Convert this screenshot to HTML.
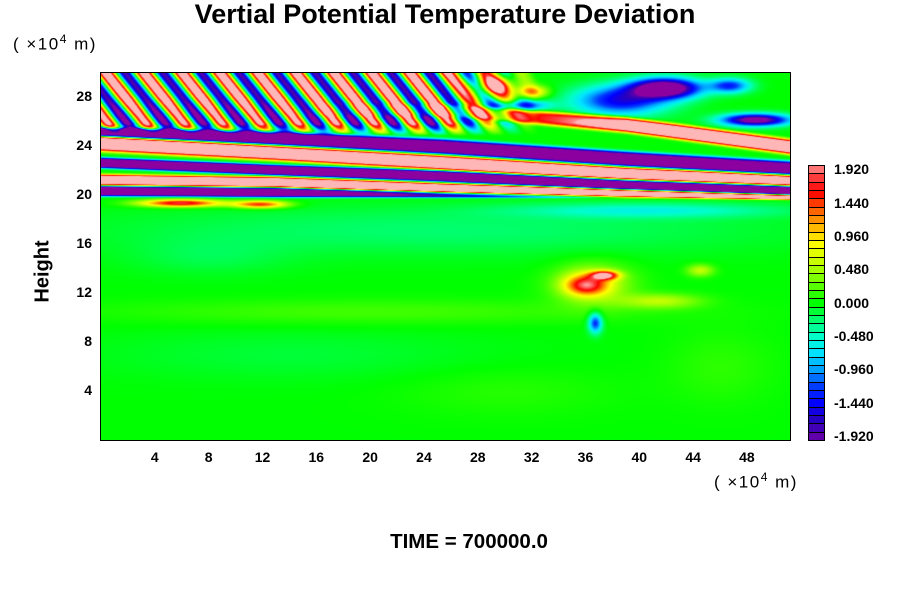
<!DOCTYPE html>
<html><head><meta charset="utf-8">
<style>
body{margin:0;background:#fff;width:900px;height:600px;overflow:hidden;position:relative;font-family:"Liberation Sans",Arial,sans-serif}
.t{position:absolute;white-space:nowrap;color:#000}
.b{font-weight:bold}
</style></head>
<body>
<div class="t b" style="left:0;width:890px;text-align:center;top:-1px;font-size:27px">Vertial Potential Temperature Deviation</div>
<div class="t" style="left:13px;top:32px;font-size:17px;letter-spacing:1.5px">( ×10<sup style="font-size:12px">4</sup>  m)</div>
<div class="t" style="left:714px;top:470px;font-size:17px;letter-spacing:1.5px">( ×10<sup style="font-size:12px">4</sup>  m)</div>
<div class="t b" style="left:8px;top:260px;font-size:20px;transform:rotate(-90deg);transform-origin:center;width:70px;text-align:center">Height</div>
<div class="t b" style="left:0;width:938px;text-align:center;top:530px;font-size:20.5px">TIME = 700000.0</div>
<canvas id="cv" width="689" height="367" style="position:absolute;left:101px;top:73px"></canvas>
<div style="position:absolute;left:100px;top:72px;width:689px;height:367px;border:1px solid #000"></div>
<div id="ax"></div>
<script>
// ---- data ----
const xTicks=[4,8,12,16,20,24,28,32,36,40,44,48];
const yTicks=[4,8,12,16,20,24,28];
const cbLevels=[1.92,1.44,0.96,0.48,0.0,-0.48,-0.96,-1.44,-1.92];
const bandKnotsX=[0,13,25.5,39,51.2];
const bandAmp=[2.6,-2.6,-2.6,2.6,-2.6,2.6];
const bandA=[24.3,23.5,22.7,21.8,21.3];
const bandB=[25.2,24.7,24.0,23.0,22.2];
const bandC=[22.7,22.1,21.6,20.9,20.4];
const bandD=[21.3,21.1,20.6,20.2,19.9];
const bandE=[20.4,20.3,20.1,19.9,19.7];
const bandF=[27.0,27.0,27.0,25.8,24.0];
const bandWidthA=[0.65,0.6,0.6,0.55,0.5];
const bandWidthB=[0.4,0.55,0.6,0.6,0.6];
const bandWidthC=[0.42,0.42,0.45,0.45,0.4];
const bandWidthD=[0.45,0.45,0.42,0.35,0.22];
const bandWidthE=[0.42,0.4,0.25,0.1,0.02];
const bandWidthF=[0.5,0.5,0.5,0.6,0.6];
const bandFade=[[1,1,1,1,1],[1,1,1,1,1],[1,1,1,1,1],[1,1,1,1,1],[1,1,0.7,0.2,0],[0,0,0.25,1,1]];
const blobX=[41.9,38.6,46.7,48.6,31.1,29.3,31.9,37.4,36.0,36.5,36.7,41.5,44.5,5.9,11.8,40.8,25.2,20,14,8,30,46];
const blobH=[28.8,27.8,29.0,26.2,27.4,29.0,28.5,13.5,12.7,12.8,9.6,11.4,13.9,19.4,19.3,18.8,17.2,10.5,7,15,4,6];
const blobVal=[-2.6,-1.5,-1.3,-2.3,-1.3,1.7,1.2,1.8,1.3,0.7,-1.3,0.55,0.6,1.8,1.5,-0.5,-0.25,0.18,-0.12,-0.15,0.1,0.12];
const blobRX=[2.5,3.5,1.5,2.5,2.0,1.5,1.2,1.0,1.5,2.8,0.5,3.0,1.0,3.0,2.0,10,25,20,15,6,8,4];
const blobRY=[0.8,1.2,0.6,0.5,0.4,0.8,0.5,0.35,0.8,1.6,0.8,0.6,0.5,0.3,0.3,0.6,2.0,1.0,2.0,1.5,2,3];
const waveAmp=2.2;
const waveBias=0.35;
const waveLength=38;
// ---- scales ----
const X0=101,X1=790,Y0=440,Y1=73,XMAX=51.2,HMAX=30;
const xs=v=>X0+(v/XMAX)*(X1-X0);
const ys=v=>Y0-(v/HMAX)*(Y0-Y1);
const xinv=p=>(p-X0)/(X1-X0)*XMAX;
const hinv=p=>(Y0-p)/(Y0-Y1)*HMAX;
const stops=[[-2.0,[140,0,160]],[-1.92,[96,0,170]],[-1.7,[40,0,190]],[-1.44,[0,0,255]],[-1.2,[0,60,255]],[-0.96,[0,160,255]],[-0.7,[0,230,255]],[-0.48,[0,255,200]],[-0.2,[0,255,90]],[0,[0,255,0]],[0.3,[110,255,0]],[0.6,[200,255,0]],[0.85,[255,255,0]],[1.1,[255,180,0]],[1.35,[255,90,0]],[1.6,[255,0,0]],[1.8,[255,60,60]],[1.95,[255,130,130]],[2.0,[255,182,182]]];
function col(v){
  if(v<=-1.98)return [140,0,160];
  if(v>=1.98)return [255,182,182];
  for(let i=1;i<stops.length;i++){if(v<=stops[i][0]){const a=stops[i-1],b=stops[i],t=(v-a[0])/(b[0]-a[0]);return [0,1,2].map(k=>a[1][k]+(b[1][k]-a[1][k])*t);}}
  return [255,182,182];
}
const bands=[bandA,bandB,bandC,bandD,bandE,bandF];
const widths=[bandWidthA,bandWidthB,bandWidthC,bandWidthD,bandWidthE,bandWidthF];
function interp(arr,x){
  for(let i=1;i<bandKnotsX.length;i++){if(x<=bandKnotsX[i]){const t=(x-bandKnotsX[i-1])/(bandKnotsX[i]-bandKnotsX[i-1]);return arr[i-1]+(arr[i]-arr[i-1])*t;}}
  return arr[arr.length-1];
}
const cv=document.getElementById('cv'),ctx=cv.getContext('2d');
const W=cv.width,H=cv.height,img=ctx.createImageData(W,H);
for(let py=0;py<H;py++){
  const yp=py+Y1,h=hinv(yp);
  for(let px=0;px<W;px++){
    const xp=px+X0,x=xinv(xp);
    let v=0;
    for(let b=0;b<bands.length;b++){
      const c=interp(bands[b],x),w=interp(widths[b],x),f=interp(bandFade[b],x);
      const d=(h-c)/w;v+=bandAmp[b]*f*Math.exp(-d*d*d*d);
    }
    const he=Math.min(1,Math.max(0,(h-24.9)/1.0)),xe=Math.min(1,Math.max(0,(540-xp)/100));
    if(he*xe>0){const bias=waveBias*Math.min(1,Math.max(0,(h-26.5)/1.5));
      v+=he*xe*(waveAmp*Math.sin(2*Math.PI*(xp-0.8*yp)/waveLength)+bias);}
    for(let k=0;k<blobX.length;k++){const dx=(x-blobX[k])/blobRX[k],dy=(h-blobH[k])/blobRY[k];v+=blobVal[k]*Math.exp(-(dx*dx+dy*dy));}
    const c=col(v),i=(py*W+px)*4;img.data[i]=c[0];img.data[i+1]=c[1];img.data[i+2]=c[2];img.data[i+3]=255;
  }
}
ctx.putImageData(img,0,0);
const ax=document.getElementById('ax');
function lab(txt,l,t,name,extra){const d=document.createElement('div');d.className='t b';d.textContent=txt;d.style.cssText='left:'+l+'px;top:'+t+'px;font-size:14px;'+(extra||'');


ax.appendChild(d);return d;}
xTicks.forEach(v=>{lab(String(v),xs(v)-20,449,'x-tick-label','width:40px;text-align:center');});
yTicks.forEach(v=>{lab(String(v),50,ys(v)-9,'y-tick-label','width:42px;text-align:right');});
const CB0=165,CB1=440,n=33,sh=(CB1-CB0)/n;
for(let i=0;i<n;i++){const lv=-1.92+0.12*i;const c=col(lv).map(Math.round);const s=document.createElement('div');
s.style.cssText='position:absolute;left:808px;width:17px;border:1px solid #000;box-sizing:border-box;top:'+(CB1-(i+1)*sh)+'px;height:'+(sh+1)+'px;background:rgb('+c.join(',')+')';


ax.appendChild(s);}
cbLevels.forEach(v=>{const y=CB1-((v+1.92)/0.12+0.5)*sh;lab(v.toFixed(3),834,y-8,'colorbar-label','font-size:14px');});
</script>
</body></html>
